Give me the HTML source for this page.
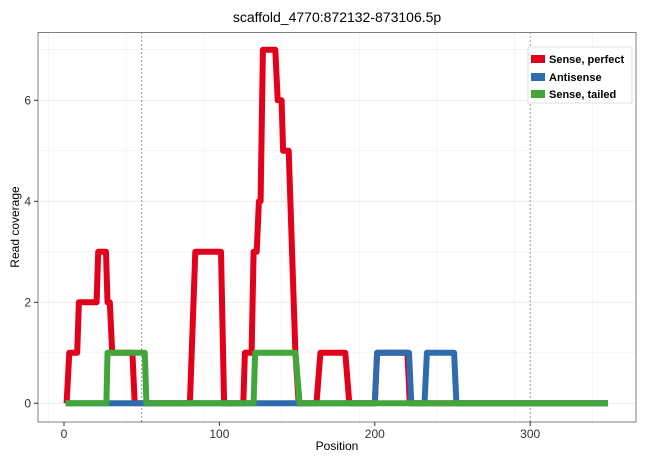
<!DOCTYPE html>
<html><head><meta charset="utf-8"><style>
body{margin:0;background:#fff}
svg{display:block;font-family:"Liberation Sans",sans-serif}
</style></head><body>
<svg id="chart" width="650" height="460">
<rect width="650" height="460" fill="#fff"/>
<g id="grid"></g>
<g id="series"></g>
<rect x="38" y="32.5" width="598" height="389.5" fill="none" stroke="#7f7f7f" stroke-width="1"/>
<g id="axes"></g>
<text x="337" y="22" text-anchor="middle" font-size="14" fill="#000">scaffold_4770:872132-873106.5p</text>
<text x="337" y="450" text-anchor="middle" font-size="12" fill="#000">Position</text>
<text transform="translate(19,227) rotate(-90)" text-anchor="middle" font-size="12" fill="#000">Read coverage</text>
<g>
<rect x="528" y="47" width="104" height="56" fill="#fff" stroke="#ccc" stroke-width="0.6"/>
<g><rect x="531" y="55" width="14" height="8" fill="#e3001b"/><text x="549" y="63" font-size="11" font-weight="bold">Sense, perfect</text></g>
<g><rect x="531" y="73" width="14" height="8" fill="#2f6cae"/><text x="549" y="81" font-size="11" font-weight="bold">Antisense</text></g>
<g><rect x="531" y="90" width="14" height="8" fill="#43a63b"/><text x="549" y="98" font-size="11" font-weight="bold">Sense, tailed</text></g>
</g>
</svg>
<script>
const xTicks=[0,100,200,300];
const yTicks=[0,2,4,6];
const vLines=[50,300];
const redPos=[1.7,3.4,8.5,9.6,21,22,27,28,29.5,31,44,45.5,81,84.5,101,103,115.4,116.4,120.7,122,124,125.4,126.5,128,136,137.5,140,141,144.6,148.9,151,162.5,165,181,183.6,200,201.5,221,222.5,350];
const redVal=[0,1,1,2,2,3,3,2,2,1,1,0,0,3,3,0,0,1,1,3,3,4,4,7,7,6,6,5,5,1,0,0,1,1,0,0,1,1,0,0];
const bluePos=[1,200,201.5,222,223.5,232,233.5,251,252.5,350];
const blueVal=[0,0,1,1,0,0,1,1,0,0];
const greenPos=[1,27.3,28,52,53,122,123,149,151.6,350];
const greenVal=[0,0,1,1,0,0,1,1,0,0];
const NS="http://www.w3.org/2000/svg";
const X=p=>64+1.554*p;
const Y=v=>403.3-50.5*v;
function mk(t,a,parent){const e=document.createElementNS(NS,t);for(const k in a)e.setAttribute(k,a[k]);parent.appendChild(e);return e;}
const grid=document.getElementById('grid'),axes=document.getElementById('axes'),ser=document.getElementById('series');
for(let v=-10;v<=370;v+=50){const x=X(v);if(x<38||x>636)continue;const g=mk('line',{x1:x,x2:x,y1:32.5,y2:422,stroke:'#ebebeb','stroke-width':(v%100===0)?0.9:0.5},grid);

}
for(let v=0;v<=7;v++){const y=Y(v);const g=mk('line',{x1:38,x2:636,y1:y,y2:y,stroke:'#ebebeb','stroke-width':(v%2===0)?0.9:0.5},grid);

}
xTicks.forEach(t=>{const x=X(t);mk('line',{x1:x,x2:x,y1:422,y2:426,stroke:'#333'},axes);
const l=mk('text',{x:x,y:438,'text-anchor':'middle','font-size':12,fill:'#333'},axes);l.textContent=t;

});
yTicks.forEach(t=>{const y=Y(t);mk('line',{x1:34,x2:38,y1:y,y2:y,stroke:'#333'},axes);
const l=mk('text',{x:31,y:y+4,'text-anchor':'end','font-size':12,fill:'#333'},axes);l.textContent=t;

});
vLines.forEach(v=>{const l=mk('line',{x1:X(v),x2:X(v),y1:32.5,y2:422,stroke:'#333','stroke-width':1,'stroke-dasharray':'1,3'},ser);

});
function line(pos,val,color,name){const pts=pos.map((p,i)=>X(p).toFixed(1)+','+Y(val[i]).toFixed(1)).join(' ');
const pl=mk('polyline',{points:pts,fill:'none',stroke:color,'stroke-width':6,'stroke-linejoin':'round'},ser);

}
line(redPos,redVal,'#e3001b','sense-perfect-line');
line(bluePos,blueVal,'#2f6cae','antisense-line');
line(greenPos,greenVal,'#43a63b','sense-tailed-line');
</script>
</body></html>
